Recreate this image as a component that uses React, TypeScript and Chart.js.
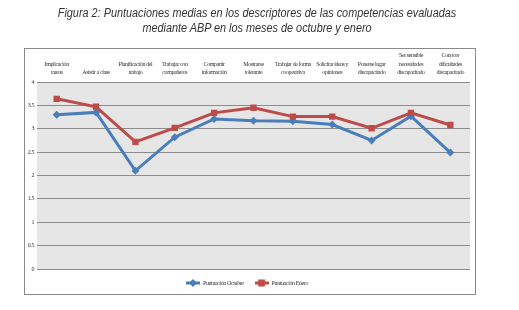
import React, { useEffect, useRef } from "react";
import { Chart, registerables } from "chart.js";

Chart.register(...registerables);

const categories: (string | string[])[] = [
  ["Implicación", "tareas"],
  "Asistir a clase",
  ["Planificación del", "trabajo"],
  ["Trabajar con", "compañeros"],
  ["Compartir", "información"],
  ["Mostrarse", "tolerante"],
  ["Trabajar de forma", "cooperativa"],
  ["Solicitar ideas y", "opiniones"],
  ["Ponerse lugar", "discapacitado"],
  ["Ser sensible", "necesidades", "discapacitado"],
  ["Conocer", "dificultades", "discapacitado"],
];

const octubre = [3.3, 3.35, 2.1, 2.82, 3.21, 3.17, 3.16, 3.09, 2.75, 3.27, 2.49];
const enero = [3.64, 3.47, 2.72, 3.02, 3.34, 3.45, 3.26, 3.26, 3.01, 3.34, 3.08];

const yTicks = [0, 0.5, 1, 1.5, 2, 2.5, 3, 3.5, 4];

const BLUE = "#4a7ebb";
const RED = "#be4b48";

function legendIcon(color: string, style: "diamond" | "square") {
  const c = document.createElement("canvas");
  c.width = 14;
  c.height = 8;
  const ctx = c.getContext("2d")!;
  ctx.strokeStyle = color;
  ctx.lineWidth = 3;
  ctx.beginPath();
  ctx.moveTo(0, 4);
  ctx.lineTo(14, 4);
  ctx.stroke();
  ctx.fillStyle = color;
  ctx.beginPath();
  if (style === "diamond") {
    ctx.moveTo(7, 0);
    ctx.lineTo(11, 4);
    ctx.lineTo(7, 8);
    ctx.lineTo(3, 4);
    ctx.closePath();
  } else {
    ctx.rect(3.5, 0.5, 7, 7);
  }
  ctx.fill();
  return c;
}

export default function App() {
  const ref = useRef<HTMLCanvasElement | null>(null);

  useEffect(() => {
    if (!ref.current) return;
    const iconBlue = legendIcon(BLUE, "diamond");
    const iconRed = legendIcon(RED, "square");

    const setSpacing = (chart: any) => {
      try {
        chart.ctx.letterSpacing = "-0.4px";
      } catch (e) {}
    };

    const framePlugin = {
      id: "frame",
      beforeInit(chart: any) {
        setSpacing(chart);
        const lg = chart.legend;
        if (lg) {
          const f = lg.fit;
          lg.fit = function () {
            f.call(this);
            this.height = 30;
          };
        }
      },
      beforeLayout(chart: any) {
        setSpacing(chart);
      },
      beforeDraw(chart: any) {
        setSpacing(chart);
        const { ctx, chartArea } = chart;
        ctx.save();
        ctx.fillStyle = "#ffffff";
        ctx.fillRect(0, 0, chart.width, chart.height);
        ctx.strokeStyle = "#8a8a8a";
        ctx.lineWidth = 1;
        ctx.strokeRect(24.5, 48.5, 451, 246);
        ctx.fillStyle = "#e6e6e6";
        ctx.fillRect(chartArea.left, chartArea.top, chartArea.right - chartArea.left, chartArea.bottom - chartArea.top);
        ctx.restore();
      },
    };

    const chart = new Chart(ref.current, {
      type: "line",
      data: {
        labels: categories,
        datasets: [
          {
            label: "Puntuación Octubre",
            data: octubre,
            borderColor: BLUE,
            backgroundColor: BLUE,
            borderWidth: 3,
            pointStyle: "rectRot",
            pointRadius: 4,
            pointBorderWidth: 0,
            tension: 0,
            order: 2,
          },
          {
            label: "Puntuación Enero",
            data: enero,
            borderColor: RED,
            backgroundColor: RED,
            borderWidth: 3,
            pointStyle: "rect",
            pointRadius: 4.5,
            pointBorderWidth: 0,
            tension: 0,
            order: 1,
          },
        ],
      },
      options: {
        animation: false,
        responsive: false,
        layout: { padding: { top: 48, left: 24, right: 49, bottom: 11 } },
        scales: {
          x: {
            type: "category",
            position: "top",
            offset: true,
            grid: { display: false, drawTicks: false },
            border: { display: false },
            ticks: {
              color: "#333333",
              padding: 5,
              maxRotation: 0,
              autoSkip: false,
              font: { family: "Liberation Serif", size: 6, lineHeight: 1.45 },
            },
            afterFit(scale: any) {
              scale.height = 34;
            },
          },
          y: {
            min: 0,
            max: 4,
            afterBuildTicks(scale: any) {
              scale.ticks = yTicks.map((v) => ({ value: v }));
            },
            grid: { color: "#8c8c8c", lineWidth: 1, drawTicks: false },
            border: { display: false },
            ticks: {
              color: "#333333",
              padding: 3,
              font: { family: "Liberation Serif", size: 6 },
              callback: (v: any) => String(v),
            },
            afterFit(scale: any) {
              scale.width = 13;
            },
          },
        },
        plugins: {
          title: { display: false },
          tooltip: { enabled: false },
          legend: {
            display: true,
            position: "bottom",
            sort: (a: any, b: any) => a.datasetIndex - b.datasetIndex,
            labels: {
              color: "#333333",
              font: { family: "Liberation Serif", size: 6 },
              usePointStyle: true,
              pointStyleWidth: 14,
              padding: 11,
              generateLabels(ch: any) {
                return ch.data.datasets.map((ds: any, i: number) => ({
                  text: ds.label,
                  pointStyle: i === 0 ? iconBlue : iconRed,
                  fillStyle: ds.borderColor,
                  strokeStyle: ds.borderColor,
                  lineWidth: 0,
                  hidden: false,
                  datasetIndex: i,
                  fontColor: "#333333",
                }));
              },
            },
          },
        },
      },
      plugins: [framePlugin],
    });
    return () => chart.destroy();
  }, []);

  return (
    <div style={{ position: "fixed", left: 0, top: 0, width: 519, height: 310, background: "#fff" }}>
      <div
        style={{
          position: "absolute",
          left: 0,
          top: 6,
          width: 514,
          textAlign: "center",
          fontFamily: "'Liberation Sans', Arial, sans-serif",
          fontStyle: "italic",
          fontSize: 12,
          lineHeight: "15px",
          color: "#333333",
          transform: "scaleX(0.905)",
          transformOrigin: "257px 0",
          zIndex: 1,
        }}
      >
        Figura 2: Puntuaciones medias en los descriptores de las competencias evaluadas
        <br />
        mediante ABP en los meses de octubre y enero
      </div>
      <canvas ref={ref} width={519} height={310} style={{ position: "absolute", left: 0, top: 0 }} />
    </div>
  );
}
